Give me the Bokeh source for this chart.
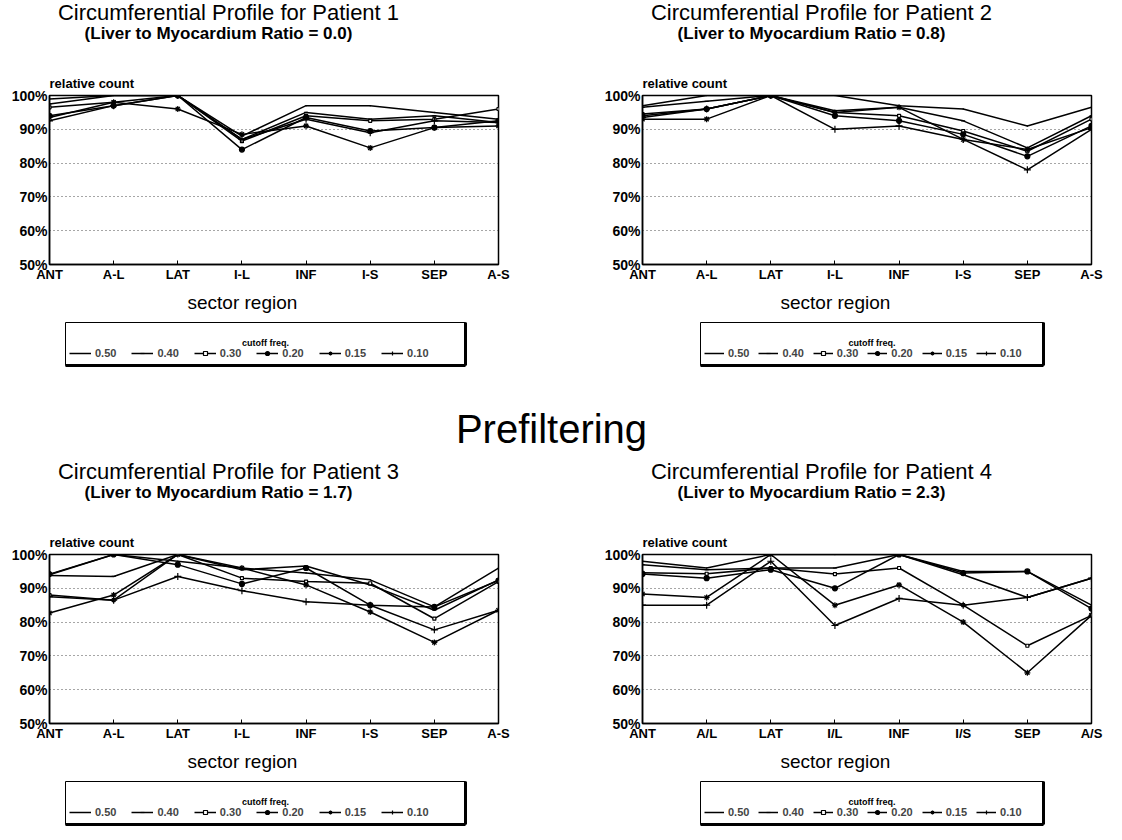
from bokeh.plotting import figure
from bokeh.models import Title, Legend, LegendItem, FixedTicker, Range1d, Label
from bokeh.layouts import column, row
from bokeh.embed import file_html
from bokeh.resources import INLINE

# ---------------- data ----------------
sectors_hyphen = ["ANT", "A-L", "LAT", "I-L", "INF", "I-S", "SEP", "A-S"]
sectors_slash = ["ANT", "A/L", "LAT", "I/L", "INF", "I/S", "SEP", "A/S"]
cutoffs = ["0.50", "0.40", "0.30", "0.20", "0.15", "0.10"]
liver_ratios = ["0.0", "0.8", "1.7", "2.3"]

# Patient 1 (relative count, %)
p1_c050 = [99.0, 100.0, 100.0, 88.0, 97.0, 97.0, 95.0, 93.0]
p1_c040 = [97.5, 100.0, 100.0, 87.0, 95.0, 93.0, 94.0, 92.0]
p1_c030 = [96.5, 98.0, 100.0, 86.5, 94.0, 92.5, 93.0, 96.0]
p1_c020 = [94.0, 97.0, 100.0, 84.0, 93.5, 89.5, 90.5, 92.5]
p1_c015 = [93.5, 98.0, 96.0, 88.5, 91.0, 84.5, 90.5, 91.0]
p1_c010 = [92.5, 97.0, 100.0, 87.0, 93.0, 89.0, 92.5, 92.0]

# Patient 2
p2_c050 = [97.0, 100.0, 100.0, 100.0, 97.0, 96.0, 91.0, 96.5]
p2_c040 = [96.5, 98.3, 100.0, 95.5, 96.5, 92.5, 84.5, 94.0]
p2_c030 = [94.5, 96.0, 100.0, 95.0, 94.0, 89.5, 83.5, 93.0]
p2_c020 = [94.0, 96.0, 100.0, 94.0, 92.5, 88.5, 82.0, 91.0]
p2_c015 = [93.0, 93.0, 100.0, 95.0, 96.5, 87.0, 84.0, 90.5]
p2_c010 = [93.5, 96.0, 100.0, 90.0, 91.0, 87.0, 78.0, 90.0]

# Patient 3
p3_c050 = [94.0, 100.0, 98.0, 96.0, 94.5, 92.5, 84.5, 96.0]
p3_c040 = [93.8, 93.5, 100.0, 95.5, 96.6, 91.0, 83.5, 92.5]
p3_c030 = [88.0, 86.5, 100.0, 93.0, 92.0, 91.5, 81.0, 92.0]
p3_c020 = [94.2, 100.0, 97.0, 91.3, 96.0, 85.0, 84.5, 92.3]
p3_c015 = [82.7, 88.0, 100.0, 96.0, 91.0, 83.0, 74.0, 83.5]
p3_c010 = [87.5, 86.5, 93.5, 89.3, 86.0, 85.0, 77.7, 83.5]

# Patient 4
p4_c050 = [98.0, 96.0, 100.0, 100.0, 100.0, 95.0, 95.0, 85.0]
p4_c040 = [97.0, 95.5, 96.0, 96.0, 100.0, 94.0, 87.3, 93.0]
p4_c030 = [94.6, 94.3, 96.0, 94.2, 96.0, 85.0, 73.0, 82.0]
p4_c020 = [94.2, 93.0, 95.5, 90.0, 100.0, 94.5, 95.0, 84.0]
p4_c015 = [88.3, 87.3, 100.0, 85.0, 91.0, 80.0, 65.0, 82.0]
p4_c010 = [85.0, 85.0, 98.0, 79.0, 87.0, 85.0, 87.3, 93.0]

y_ticks = [50, 60, 70, 80, 90, 100]
y_tick_labels = ["50%", "60%", "70%", "80%", "90%", "100%"]

# ---------------- styling ----------------
FONT = "Liberation Sans"
MARKERS = ["dot", "dash", "square", "circle", "asterisk", "cross"]
MSIZE = [6, 4, 3, 5, 6, 7]
MFILL = ["black", "black", "white", "black", "black", "black"]
PAGE_W = 1106
HALF = 553


def add_series(fig, xs, series):
    rends = []
    for k, ys in enumerate(series):
        lr = fig.line(xs, ys, line_color="black", line_width=1.5)
        sr = fig.scatter(xs, ys, marker=MARKERS[k], size=MSIZE[k],
                         line_color="black", fill_color=MFILL[k], line_width=1.2)
        rends.append((lr, sr))
    return rends


def make_plot(labels, series, left, right):
    p = figure(frame_width=449, frame_height=169,
               min_border_left=left, min_border_right=right,
               min_border_top=28, min_border_bottom=57,
               x_range=Range1d(0, 7), y_range=Range1d(50, 100),
               output_backend="svg", toolbar_location=None, tools="",
               background_fill_color="white", border_fill_color="white")
    p.outline_line_color = "black"
    p.outline_line_width = 1.5
    xs = list(range(len(labels)))
    add_series(p, xs, series)

    p.xaxis.ticker = FixedTicker(ticks=xs)
    p.xaxis.major_label_overrides = {i: s for i, s in enumerate(labels)}
    p.yaxis.ticker = FixedTicker(ticks=y_ticks)
    p.yaxis.major_label_overrides = {t: s for t, s in zip(y_ticks, y_tick_labels)}
    for ax in (p.xaxis[0], p.yaxis[0]):
        ax.axis_line_color = "black"
        ax.axis_line_width = 1.5
        ax.major_label_text_font = FONT
        ax.major_label_text_font_style = "bold"
        ax.major_label_text_color = "black"
        ax.minor_tick_line_color = None
    p.xaxis.major_label_text_font_size = "13px"
    p.yaxis.major_label_text_font_size = "14px"
    p.xaxis.major_tick_in = 4
    p.xaxis.major_tick_out = 0
    p.xaxis.major_tick_line_color = "black"
    p.xaxis.major_label_standoff = 2
    p.yaxis.major_tick_in = 0
    p.yaxis.major_tick_out = 0
    p.yaxis.major_label_standoff = 2

    p.xgrid.grid_line_color = None
    p.ygrid.ticker = FixedTicker(ticks=[60, 70, 80, 90])
    p.ygrid.grid_line_color = "black"
    p.ygrid.grid_line_alpha = 0.7
    p.ygrid.grid_line_dash = "1 3"
    p.ygrid.grid_line_width = 1

    p.add_layout(Title(text="relative count", align="left", offset=0,
                       text_font=FONT, text_font_size="13px",
                       text_font_style="bold", text_color="black"), "above")
    p.add_layout(Title(text="sector region", align="left", offset=138,
                       text_font=FONT, text_font_size="19px",
                       text_font_style="normal", text_color="black"), "below")
    return p


def make_legend_fig(box_left, box_w, spacing, glyph_w):
    lf = figure(frame_width=box_w, frame_height=43,
                min_border_left=box_left, min_border_right=HALF - box_left - box_w,
                min_border_top=1, min_border_bottom=10,
                x_range=Range1d(0, 1), y_range=Range1d(0, 1),
                y_axis_location="right",
                output_backend="svg", toolbar_location=None, tools="",
                border_fill_color="white")
    lf.grid.visible = False
    lf.outline_line_color = "black"
    lf.outline_line_width = 1
    for ax in (lf.xaxis[0], lf.yaxis[0]):
        ax.ticker = FixedTicker(ticks=[])
        ax.major_tick_line_color = None
        ax.minor_tick_line_color = None
        ax.major_label_text_color = None
        ax.axis_line_color = "black"
        ax.axis_line_width = 3
    # legend-only renderers: a single point placed outside the visible box
    rends = add_series(lf, [-5], [[-5] for _ in cutoffs])
    items = [LegendItem(label=c, renderers=[lr, sr]) for c, (lr, sr) in zip(cutoffs, rends)]
    legend = Legend(items=items, orientation="horizontal", location=(4, 6),
                    label_text_font=FONT, label_text_font_size="11px",
                    label_text_font_style="bold", label_standoff=4,
                    glyph_width=glyph_w, glyph_height=10, spacing=spacing,
                    padding=3, margin=0, border_line_color=None,
                    background_fill_alpha=0)
    lf.add_layout(legend)
    lf.add_layout(Label(x=0.5, y=0.53, text="cutoff freq.", text_align="center",
                        text_baseline="middle", text_font=FONT,
                        text_font_size="9px", text_font_style="bold",
                        text_color="black"))
    return lf


def make_header(idx_left, idx_right):
    h = figure(width=PAGE_W, height=67, x_range=Range1d(0, PAGE_W), y_range=Range1d(0, 67),
               x_axis_type=None, y_axis_type=None, min_border=0,
               output_backend="svg", toolbar_location=None, tools="")
    h.grid.visible = False
    h.outline_line_color = None
    for idx, cx in ((idx_left, 228), (idx_right, 228 + 593)):
        h.add_layout(Label(x=cx, y=55, text="Circumferential Profile for Patient %d" % (idx + 1),
                           text_align="center", text_baseline="middle", text_font=FONT,
                           text_font_size="22px", text_color="black"))
        h.add_layout(Label(x=cx - 10, y=34, text="(Liver to Myocardium Ratio = %s)" % liver_ratios[idx],
                           text_align="center", text_baseline="middle", text_font=FONT,
                           text_font_size="17px", text_font_style="bold", text_color="black"))
    return h


f1 = make_plot(sectors_hyphen, [p1_c050, p1_c040, p1_c030, p1_c020, p1_c015, p1_c010], 49, 55)
f2 = make_plot(sectors_hyphen, [p2_c050, p2_c040, p2_c030, p2_c020, p2_c015, p2_c010], 89, 15)
f3 = make_plot(sectors_hyphen, [p3_c050, p3_c040, p3_c030, p3_c020, p3_c015, p3_c010], 49, 55)
f4 = make_plot(sectors_slash, [p4_c050, p4_c040, p4_c030, p4_c020, p4_c015, p4_c010], 89, 15)

lg1 = make_legend_fig(65, 400, 15, 22)
lg2 = make_legend_fig(147, 343, 9, 20)
lg3 = make_legend_fig(65, 400, 15, 22)
lg4 = make_legend_fig(147, 343, 9, 20)

pre = figure(width=PAGE_W, height=84, x_range=Range1d(0, PAGE_W), y_range=Range1d(0, 84),
             x_axis_type=None, y_axis_type=None, min_border=0,
             output_backend="svg", toolbar_location=None, tools="")
pre.grid.visible = False
pre.outline_line_color = None
pre.add_layout(Label(x=551, y=31, text="Prefiltering", text_align="center",
                     text_baseline="middle", text_font=FONT,
                     text_font_size="40px", text_color="black"))

layout = column(make_header(0, 1), row(f1, f2), row(lg1, lg2), pre,
                make_header(2, 3), row(f3, f4), row(lg3, lg4))
open("out.html", "w").write(file_html(layout, INLINE))
